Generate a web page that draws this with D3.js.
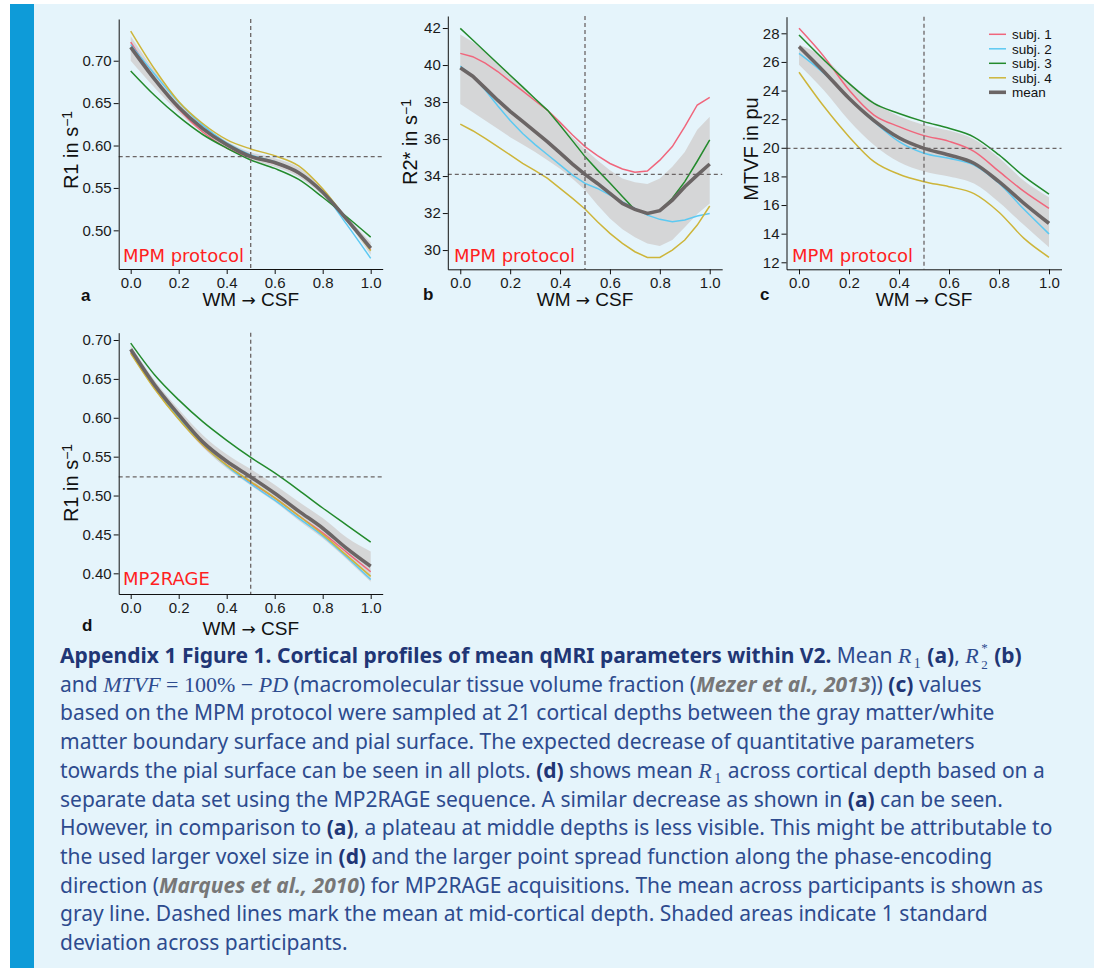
<!DOCTYPE html>
<html>
<head>
<meta charset="utf-8">
<script src="https://cdn.jsdelivr.net/npm/d3@7"></script>
<style>
  body { margin: 0; background: #fff; }
</style>
</head>
<body>
<svg id="fig"></svg>
<script>
// cortical depth (WM -> CSF)
const depth11 = [0, 0.1, 0.2, 0.3, 0.4, 0.5, 0.6, 0.7, 0.8, 0.9, 1.0];
const depth21 = [0, 0.05, 0.1, 0.15, 0.2, 0.25, 0.3, 0.35, 0.4, 0.45, 0.5,
                 0.55, 0.6, 0.65, 0.7, 0.75, 0.8, 0.85, 0.9, 0.95, 1.0];

const subjNames = ["subj. 1", "subj. 2", "subj. 3", "subj. 4"];
const subjColors = ["#f0667c", "#5cc9f2", "#238a2c", "#cdb53a"];
const xTicks = [0, 0.2, 0.4, 0.6, 0.8, 1.0];

// (a) R1, MPM protocol
const a_subj1 = [0.722, 0.679, 0.643, 0.616, 0.597, 0.586, 0.579, 0.567, 0.546, 0.514, 0.477];
const a_subj2 = [0.719, 0.684, 0.651, 0.624, 0.603, 0.589, 0.581, 0.568, 0.545, 0.507, 0.467];
const a_subj3 = [0.688, 0.659, 0.634, 0.613, 0.597, 0.583, 0.573, 0.560, 0.539, 0.516, 0.492];
const a_subj4 = [0.735, 0.690, 0.652, 0.626, 0.607, 0.596, 0.588, 0.576, 0.549, 0.513, 0.476];
const a_mean  = [0.716, 0.678, 0.645, 0.620, 0.601, 0.587, 0.580, 0.568, 0.545, 0.513, 0.479];
const a_lo    = [0.700, 0.668, 0.639, 0.615, 0.597, 0.583, 0.575, 0.563, 0.541, 0.510, 0.471];
const a_hi    = [0.729, 0.688, 0.652, 0.625, 0.605, 0.592, 0.585, 0.574, 0.549, 0.516, 0.486];
const a_yTicks = [0.50, 0.55, 0.60, 0.65, 0.70];

// (b) R2*, MPM protocol
const b_subj1 = [40.63, 40.45, 40.10, 39.65, 39.12, 38.60, 38.07, 37.55, 36.90, 36.22, 35.59,
                 35.10, 34.68, 34.38, 34.20, 34.27, 34.86, 35.59, 36.67, 37.84, 38.25];
const b_subj2 = [39.95, 39.40, 38.65, 37.80, 37.00, 36.30, 35.70, 35.15, 34.60, 34.05, 33.60,
                 33.33, 32.97, 32.60, 32.25, 31.89, 31.66, 31.53, 31.62, 31.84, 31.98];
const b_subj3 = [41.98, 41.35, 40.72, 40.08, 39.45, 38.82, 38.18, 37.55, 36.75, 35.90, 35.05,
                 34.32, 33.62, 32.90, 32.18, 31.98, 32.13, 32.80, 33.70, 34.80, 35.95];
const b_subj4 = [36.81, 36.45, 36.04, 35.59, 35.14, 34.68, 34.29, 33.87, 33.33, 32.79, 32.22,
                 31.53, 30.90, 30.36, 29.91, 29.60, 29.60, 30.00, 30.54, 31.35, 32.38];
const b_mean  = [39.85, 39.40, 38.75, 38.10, 37.50, 36.95, 36.40, 35.85, 35.25, 34.65, 34.09,
                 33.60, 33.06, 32.52, 32.20, 31.98, 32.13, 32.70, 33.42, 34.05, 34.65];
const b_lo    = [37.90, 37.45, 37.00, 36.55, 36.10, 35.70, 35.30, 34.85, 34.40, 33.85, 33.24,
                 32.43, 31.71, 31.12, 30.69, 30.36, 30.22, 30.54, 31.23, 31.95, 32.52];
const b_hi    = [41.65, 41.25, 40.70, 40.10, 39.45, 38.80, 38.10, 37.45, 36.80, 36.10, 35.45,
                 34.86, 34.32, 33.87, 33.66, 33.57, 33.87, 34.50, 35.30, 36.50, 37.20];
const b_yTicks = [30, 32, 34, 36, 38, 40, 42];

// (c) MTVF, MPM protocol
const c_subj1 = [28.35, 26.37, 24.04, 22.29, 21.48, 20.85, 20.45, 19.75, 18.35, 16.95, 15.77];
const c_subj2 = [26.60, 25.20, 23.46, 21.83, 20.43, 19.62, 19.27, 18.80, 17.52, 15.70, 13.98];
const c_subj3 = [27.88, 26.14, 24.50, 23.10, 22.40, 21.83, 21.36, 20.75, 19.50, 18.00, 16.77];
const c_subj4 = [25.28, 22.88, 20.78, 19.03, 18.15, 17.63, 17.28, 16.80, 15.50, 13.67, 12.35];
const c_mean  = [27.07, 25.32, 23.46, 21.90, 20.70, 19.96, 19.50, 18.92, 17.63, 16.12, 14.72];
const c_lo    = [25.80, 24.00, 21.90, 20.20, 19.00, 18.35, 18.00, 17.50, 16.20, 14.60, 13.05];
const c_hi    = [27.20, 26.30, 24.60, 23.20, 22.20, 21.60, 21.20, 20.60, 19.30, 17.70, 16.55];
const c_yTicks = [12, 14, 16, 18, 20, 22, 24, 26, 28];

// (d) R1, MP2RAGE
const d_subj1 = [0.684, 0.638, 0.599, 0.565, 0.539, 0.517, 0.497, 0.474, 0.452, 0.427, 0.402];
const d_subj2 = [0.687, 0.640, 0.600, 0.566, 0.538, 0.515, 0.494, 0.471, 0.448, 0.421, 0.392];
const d_subj3 = [0.696, 0.655, 0.623, 0.595, 0.571, 0.549, 0.529, 0.507, 0.484, 0.462, 0.440];
const d_subj4 = [0.683, 0.637, 0.598, 0.565, 0.539, 0.518, 0.497, 0.474, 0.450, 0.423, 0.396];
const d_mean  = [0.688, 0.642, 0.604, 0.569, 0.544, 0.524, 0.503, 0.480, 0.458, 0.432, 0.409];
const d_lo    = [0.683, 0.636, 0.597, 0.562, 0.535, 0.513, 0.492, 0.468, 0.445, 0.418, 0.389];
const d_hi    = [0.693, 0.648, 0.611, 0.578, 0.553, 0.534, 0.514, 0.492, 0.471, 0.446, 0.428];
const d_yTicks = [0.40, 0.45, 0.50, 0.55, 0.60, 0.65, 0.70];

const W = 1094, H = 968;
const svg = d3.select("#fig").attr("width", W).attr("height", H);

// page background + blue side bar
svg.append("rect").attr("width", W).attr("height", H).attr("fill", "#fff");
svg.append("rect").attr("x", 10).attr("y", 4).attr("width", W - 10).attr("height", H - 4).attr("fill", "#e5f4fb");
svg.append("rect").attr("x", 10).attr("y", 4).attr("width", 24).attr("height", H - 4).attr("fill", "#0e9bd8");

const panels = [
  { letter: "a", depth: depth11, subj: [a_subj1, a_subj2, a_subj3, a_subj4], mean: a_mean, lo: a_lo, hi: a_hi,
    curve: d3.curveMonotoneX, xr: [118.7, 382.7], yr: [269, 19], yd: [0.4544, 0.7492], yTicks: a_yTicks, fmt: ".2f",
    yLabel: ["R1 in s", "\u22121"], yLabelPos: [71, 150], letterPos: [81, 301], xLabelY: 306, tag: "MPM protocol", tagPos: [123, 262] },
  { letter: "b", depth: depth21, subj: [b_subj1, b_subj2, b_subj3, b_subj4], mean: b_mean, lo: b_lo, hi: b_hi,
    curve: d3.curveLinear, xr: [447.8, 722.2], yr: [269.3, 16], yd: [28.96, 42.65], yTicks: b_yTicks, fmt: "d",
    yLabel: ["R2* in s", "\u22121"], yLabelPos: [410, 142], letterPos: [423, 300], xLabelY: 306, tag: "MPM protocol", tagPos: [454, 262] },
  { letter: "c", depth: depth11, subj: [c_subj1, c_subj2, c_subj3, c_subj4], mean: c_mean, lo: c_lo, hi: c_hi,
    curve: d3.curveMonotoneX, xr: [786.5, 1061.5], yr: [269.3, 16.7], yd: [11.51, 29.16], yTicks: c_yTicks, fmt: "d",
    yLabel: ["MTVF in pu", ""], yLabelPos: [751, 149], letterPos: [760, 300], xLabelY: 306, tag: "MPM protocol", tagPos: [792, 262],
    legend: true },
  { letter: "d", depth: depth11, subj: [d_subj1, d_subj2, d_subj3, d_subj4], mean: d_mean, lo: d_lo, hi: d_hi,
    curve: d3.curveMonotoneX, xr: [118.7, 382.7], yr: [594, 332.7], yd: [0.3734, 0.7094], yTicks: d_yTicks, fmt: ".2f",
    yLabel: ["R1 in s", "\u22121"], yLabelPos: [71, 483], letterPos: [82, 631], xLabelY: 635, tag: "MP2RAGE", tagPos: [123, 585] }
];

const sansFont = "'Liberation Sans', Arial, sans-serif";

function styleAxis(sel) {
  sel.attr("font-family", sansFont).attr("font-size", 15);
  sel.selectAll("text").attr("fill", "#1a1a1a");
  sel.selectAll("path, line").attr("stroke", "#111");
}

panels.forEach(p => {
  const x = d3.scaleLinear().domain([-0.05, 1.05]).range(p.xr);
  const y = d3.scaleLinear().domain(p.yd).range(p.yr);
  const g = svg.append("g");

  // std band
  const band = d3.area()
    .x((d, i) => x(p.depth[i]))
    .y0((d, i) => y(p.lo[i]))
    .y1((d, i) => y(p.hi[i]))
    .curve(p.curve);
  g.append("path").datum(p.depth).attr("d", band).attr("fill", "#d5d6d7");

  const line = d3.line()
    .x((d, i) => x(p.depth[i]))
    .y(d => y(d))
    .curve(p.curve);

  p.subj.forEach((s, k) => {
    g.append("path").datum(s).attr("d", line)
      .attr("fill", "none").attr("stroke", subjColors[k]).attr("stroke-width", 1.5);
  });
  g.append("path").datum(p.mean).attr("d", line)
    .attr("fill", "none").attr("stroke", "#6b6565").attr("stroke-width", 3.6);

  // dashed guides: mid-cortical depth and mean value there
  const mid = p.mean[p.depth.indexOf(0.5)];
  g.append("line").attr("x1", x(0.5)).attr("x2", x(0.5)).attr("y1", p.yr[1]).attr("y2", p.yr[0])
    .attr("stroke", "#6b6565").attr("stroke-width", 1.3).attr("stroke-dasharray", "4,3");
  g.append("line").attr("x1", p.xr[0]).attr("x2", p.xr[1]).attr("y1", y(mid)).attr("y2", y(mid))
    .attr("stroke", "#6b6565").attr("stroke-width", 1.3).attr("stroke-dasharray", "4,3");

  // axes
  g.append("g")
    .attr("transform", `translate(0,${p.yr[0]})`)
    .call(d3.axisBottom(x).tickValues(xTicks).tickFormat(d3.format(".1f"))
      .tickSize(5).tickPadding(3).tickSizeOuter(0))
    .call(styleAxis);
  g.append("g")
    .attr("transform", `translate(${p.xr[0]},0)`)
    .call(d3.axisLeft(y).tickValues(p.yTicks).tickFormat(d3.format(p.fmt))
      .tickSize(5).tickPadding(2).tickSizeOuter(0))
    .call(styleAxis);

  // protocol tag
  g.append("text").attr("x", p.tagPos[0]).attr("y", p.tagPos[1])
    .attr("font-family", "'DejaVu Sans', sans-serif").attr("font-size", 18)
    .attr("fill", "#ff1f1f").text(p.tag);

  // axis titles
  const xl = g.append("text").attr("x", x(0.5)).attr("y", p.xLabelY)
    .attr("text-anchor", "middle").attr("font-family", sansFont).attr("font-size", 19)
    .attr("fill", "#111");
  xl.append("tspan").text("WM ");
  xl.append("tspan").attr("font-family", "'DejaVu Sans', sans-serif").attr("font-size", 17).text("\u2192");
  xl.append("tspan").text(" CSF");

  const yl = g.append("text")
    .attr("transform", `translate(${p.yLabelPos[0]},${p.yLabelPos[1]}) rotate(-90)`)
    .attr("text-anchor", "middle").attr("dy", "0.35em")
    .attr("font-family", sansFont).attr("font-size", 20).attr("fill", "#111");
  yl.append("tspan").text(p.yLabel[0]);
  if (p.yLabel[1]) yl.append("tspan").attr("dy", "-0.45em").attr("font-size", 14).text(p.yLabel[1]);

  g.append("text").attr("x", p.letterPos[0]).attr("y", p.letterPos[1])
    .attr("font-family", sansFont).attr("font-size", 17).attr("font-weight", "bold")
    .attr("fill", "#111").text(p.letter);

  if (p.legend) {
    const items = subjNames.map((n, k) => ({ name: n, color: subjColors[k], w: 1.5 }))
      .concat([{ name: "mean", color: "#6b6565", w: 3.6 }]);
    const lg = g.append("g").attr("transform", "translate(989,34.3)");
    items.forEach((it, k) => {
      const row = lg.append("g").attr("transform", `translate(0,${k * 14.5})`);
      row.append("line").attr("x1", 0).attr("x2", 17).attr("stroke", it.color).attr("stroke-width", it.w);
      row.append("text").attr("x", 23).attr("dy", "0.35em")
        .attr("font-family", sansFont).attr("font-size", 13.5).attr("fill", "#111").text(it.name);
    });
  }
});

// caption
const capLines = [
  [["b", "Appendix 1 Figure 1. Cortical profiles of mean qMRI parameters within V2."], ["n", " Mean "], ["R1"], ["n", " "], ["b", "(a)"], ["n", ", "], ["R2s"], ["n", " "], ["b", "(b)"]],
  [["n", "and "], ["mi", "MTVF"], ["m", " = 100% \u2212 "], ["mi", "PD"], ["n", " (macromolecular tissue volume fraction ("], ["l", "Mezer et al., 2013"], ["n", ")) "], ["b", "(c)"], ["n", " values"]],
  [["n", "based on the MPM protocol were sampled at 21 cortical depths between the gray matter/white"]],
  [["n", "matter boundary surface and pial surface. The expected decrease of quantitative parameters"]],
  [["n", "towards the pial surface can be seen in all plots. "], ["b", "(d)"], ["n", " shows mean "], ["R1"], ["n", " across cortical depth based on a"]],
  [["n", "separate data set using the MP2RAGE sequence. A similar decrease as shown in "], ["b", "(a)"], ["n", " can be seen."]],
  [["n", "However, in comparison to "], ["b", "(a)"], ["n", ", a plateau at middle depths is less visible. This might be attributable to"]],
  [["n", "the used larger voxel size in "], ["b", "(d)"], ["n", " and the larger point spread function along the phase-encoding"]],
  [["n", "direction ("], ["l", "Marques et al., 2010"], ["n", ") for MP2RAGE acquisitions. The mean across participants is shown as"]],
  [["n", "gray line. Dashed lines mark the mean at mid-cortical depth. Shaded areas indicate 1 standard"]],
  [["n", "deviation across participants."]]
];

const cap = svg.append("g").attr("font-family", "'Noto Sans', 'Open Sans', sans-serif").attr("font-size", 21);
const serif = "'Liberation Serif', 'DejaVu Serif', serif";
capLines.forEach((segs, li) => {
  const t = cap.append("text").attr("x", 60).attr("y", 663 + li * 28.7)
    .attr("fill", "#2d4b8e").attr("xml:space", "preserve");
  let backDy = 0; // shift back to baseline after a subscript
  const span = () => {
    const s = t.append("tspan");
    if (backDy) { s.attr("dy", backDy).attr("dx", 1); backDy = 0; }
    return s;
  };
  segs.forEach(s => {
    const kind = s[0];
    if (kind === "n") span().text(s[1]);
    else if (kind === "b") span().attr("font-weight", "bold").attr("fill", "#1f3675").text(s[1]);
    else if (kind === "l") span().attr("font-weight", "bold").attr("font-style", "italic")
      .attr("fill", "#777").text(s[1]);
    else if (kind === "mi") span().attr("font-family", serif).attr("font-style", "italic")
      .attr("font-size", 22).text(s[1]);
    else if (kind === "m") span().attr("font-family", serif).attr("font-size", 22).text(s[1]);
    else if (kind === "R1") {
      span().attr("font-family", serif).attr("font-style", "italic").attr("font-size", 22).text("R");
      t.append("tspan").attr("font-family", serif).attr("font-size", 14).attr("dx", 2.5).attr("dy", 5).text("1");
      backDy = -5;
    } else if (kind === "R2s") {
      span().attr("font-family", serif).attr("font-style", "italic").attr("font-size", 22).text("R");
      t.append("tspan").attr("font-family", serif).attr("font-size", 13).attr("dx", 2.5).attr("dy", -11).text("*");
      t.append("tspan").attr("font-family", serif).attr("font-size", 13).attr("dx", -6.5).attr("dy", 17).text("2");
      backDy = -6;
    }
  });
});
</script>
</body>
</html>
